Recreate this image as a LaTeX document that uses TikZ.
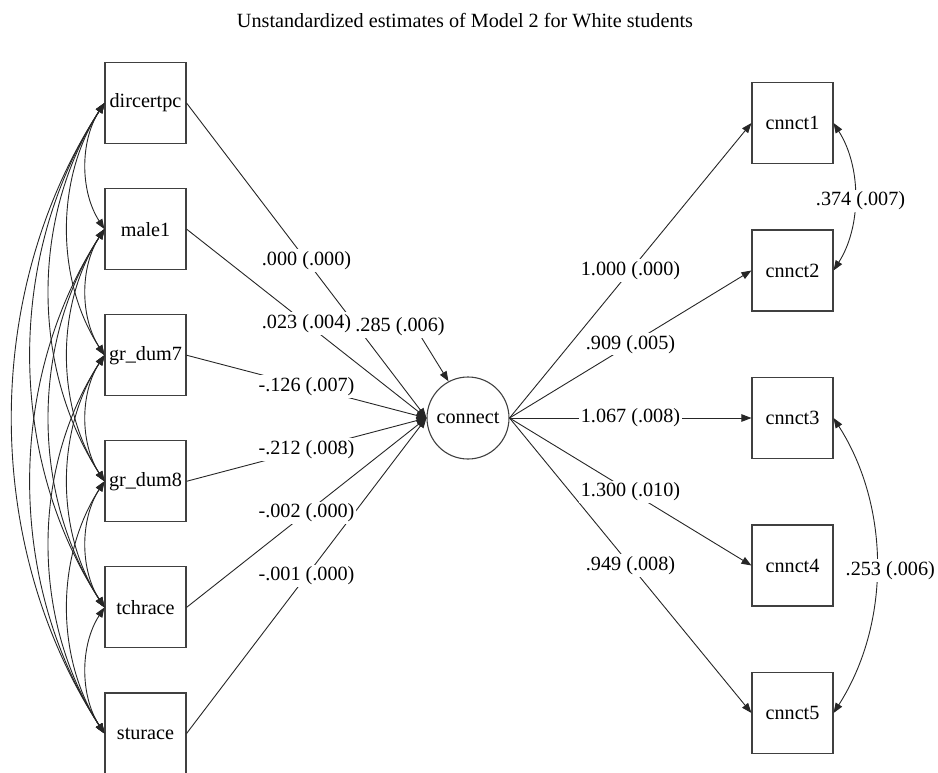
\documentclass[tikz,border=0pt]{standalone}
\usepackage{fontspec}
\setmainfont{Liberation Serif}
\usetikzlibrary{arrows.meta}
\begin{document}
\begin{tikzpicture}[x=1pt,y=-1pt,
  every node/.style={font=\fontsize{20.2}{23}\selectfont},
  obs/.style={draw=black!75, line width=1.1pt, minimum width=81pt, minimum height=81pt, inner sep=0pt},
  lat/.style={circle, draw=black!75, line width=1.1pt, minimum size=82pt, inner sep=0pt},
  regpath/.style={draw=black!85, line width=0.9pt, -{Triangle[length=10pt,width=7.5pt]}},
  covpath/.style={draw=black!85, line width=0.9pt, {Triangle[length=10pt,width=7.5pt]}-{Triangle[length=10pt,width=7.5pt]}},
  est/.style={fill=white, inner sep=2pt}]
\useasboundingbox (0,0) rectangle (938,772);

% title
\node (title) at (465,21) {Unstandardized estimates of Model 2 for White students};

% exogenous observed variables
\node[obs] (x1) at (145.5,103.0) {dircertpc};
\node[obs] (x2) at (145.5,229.1) {male1};
\node[obs] (x3) at (145.5,355.2) {gr\_dum7};
\node[obs] (x4) at (145.5,481.3) {gr\_dum8};
\node[obs] (x5) at (145.5,607.4) {tchrace};
\node[obs] (x6) at (145.5,733.5) {sturace};

% latent factor
\node[lat] (connect) at (468,418) {connect};

% indicators
\node[obs] (y1) at (792.5,123.0) {cnnct1};
\node[obs] (y2) at (792.5,270.5) {cnnct2};
\node[obs] (y3) at (792.5,418.0) {cnnct3};
\node[obs] (y4) at (792.5,565.5) {cnnct4};
\node[obs] (y5) at (792.5,713.0) {cnnct5};

% covariances among the exogenous variables
\foreach \i in {1,...,5}{
  \pgfmathtruncatemacro{\nxt}{\i+1}
  \foreach \j in {\nxt,...,6}{
    \pgfmathsetmacro{\cvx}{24.5*(\j-\i)}
    \pgfmathsetmacro{\cvy}{0.3*126.1*(\j-\i)}
    \draw[covpath] (x\i.west) .. controls +(-\cvx,\cvy) and +(-\cvx,-\cvy) .. (x\j.west);
  }
}

% regressions on the factor
\foreach \i in {1,...,6}{
  \draw[regpath] (x\i.east) -- (connect.west);
}
% residual variance of the factor
\coordinate (e1) at (415,327);
\draw[regpath] (e1) -- (connect.118);

% loadings
\foreach \i in {1,...,5}{
  \draw[regpath] (connect.east) -- (y\i.west);
}

% estimates
\path (x1.east) -- (connect.west) node[est, midway] {.000 (.000)};
\path (x2.east) -- (connect.west) node[est, midway] {.023 (.004)};
\node[est] (rv) at (400,327) {.285 (.006)};
\path (x3.east) -- (connect.west) node[est, midway] {-.126 (.007)};
\path (x4.east) -- (connect.west) node[est, midway] {-.212 (.008)};
\path (x5.east) -- (connect.west) node[est, midway] {-.002 (.000)};
\path (x6.east) -- (connect.west) node[est, midway] {-.001 (.000)};

\path (connect.east) -- (y1.west) node[est, midway] {1.000 (.000)};
\path (connect.east) -- (y2.west) node[est, midway] {.909 (.005)};
\path (connect.east) -- (y3.west) node[est, midway] {1.067 (.008)};
\path (connect.east) -- (y4.west) node[est, midway] {1.300 (.010)};
\path (connect.east) -- (y5.west) node[est, midway] {.949 (.008)};

% residual covariances of the indicators
\draw[covpath] (y1.east) .. controls +(28,44) and +(28,-44) .. (y2.east)
  node[est, pos=0.5, xshift=6pt, yshift=-4pt] {.374 (.007)};
\draw[covpath] (y3.east) .. controls +(57,89) and +(57,-89) .. (y5.east)
  node[est, pos=0.5, xshift=14pt, yshift=-5pt] {.253 (.006)};
\end{tikzpicture}
\end{document}
